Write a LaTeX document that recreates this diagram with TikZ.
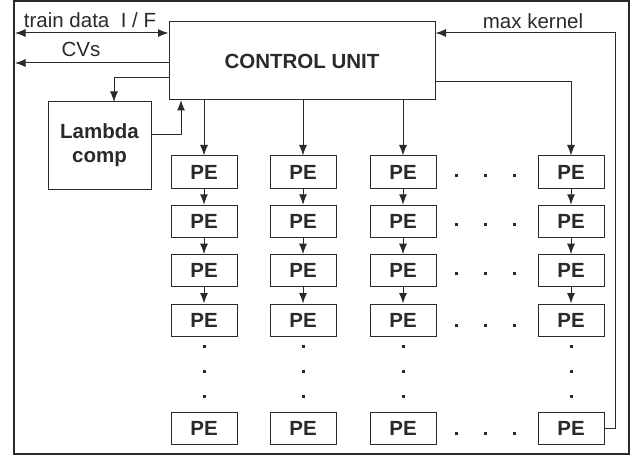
\documentclass[tikz,border=0pt]{standalone}
\usepackage{fontspec}
\setmainfont{Liberation Sans}
\usetikzlibrary{arrows.meta}
\definecolor{ink}{HTML}{2A2A2A}
\begin{document}
\begin{tikzpicture}[x=1pt,y=-1pt,
  box/.style={draw=ink, line width=1pt, inner sep=0pt, text=ink,
    font=\fontsize{20.5}{24}\selectfont\bfseries},
  pe/.style={box, minimum width=66pt, minimum height=32pt},
  arr/.style={draw=ink, line width=1pt, -{Latex[length=10.5pt,width=8pt]}},
  lbl/.style={font=\fontsize{20.5}{24}\selectfont, text=ink, inner sep=0pt, anchor=base},
  dot/.style={fill=ink}
]
\useasboundingbox (0,0) rectangle (636,457);
\draw[ink, line width=2pt] (14,1.5) rectangle (628.5,454);

\node[box, minimum width=266pt, minimum height=78pt] (cu) at (302,61) {CONTROL UNIT};
\node[box, minimum width=103pt, minimum height=87pt, align=center] (lam) at (99.5,145.5) {Lambda\\comp};

\foreach \c/\x in {1/204,2/303,3/403,4/571} {
  \foreach \r/\y in {1/172,2/221.3,3/270.7,4/320,5/428} {
    \node[pe] (p\r\c) at (\x,\y) {PE};
  }
  \foreach \r/\n in {1/2,2/3,3/4} { \draw[arr] (p\r\c) -- (p\n\c); }
  \foreach \y in {346,371,396} { \fill[dot] (\x-1.5,\y-1.5) rectangle ++(3,3); }
}
\foreach \y in {175,224.3,273.7,325,433} {
  \foreach \x in {456,485,514} { \fill[dot] (\x-1.5,\y-1.5) rectangle ++(3,3); }
}

% connectors
\coordinate (tL) at (15,33);
\coordinate (cvL) at (15,63);
\coordinate (lamIn) at (114,78);
\coordinate (lamInEnd) at (114,102);
\coordinate (lamOut) at (151,135);
\coordinate (lamOutEnd) at (181,100);
\coordinate (c4) at (435,82);
\coordinate (mk) at (615,33);

\draw[draw=ink, line width=1pt, {Latex[length=10.5pt,width=8pt]}-{Latex[length=10.5pt,width=8pt]}] (tL) -- (cu.west |- tL);
\draw[arr] (cu.west |- cvL) -- (cvL);
\draw[arr] (cu.west |- lamIn) -| (lamInEnd);
\draw[arr] (lamOut) -| (lamOutEnd);
\foreach \c in {1,2,3} { \draw[arr] (cu.south -| p1\c) -- (p1\c); }
\draw[arr] (c4) -| (p14);
\draw[arr] (p54.east) -| (mk) -- (cu.east |- mk);

% labels
\node[lbl] (ltrain) at (90,28) {train data\ \ I / F};
\node[lbl] (lcv) at (81,57) {CVs};
\node[lbl] (lmax) at (533,29) {max kernel};
\end{tikzpicture}
\end{document}
